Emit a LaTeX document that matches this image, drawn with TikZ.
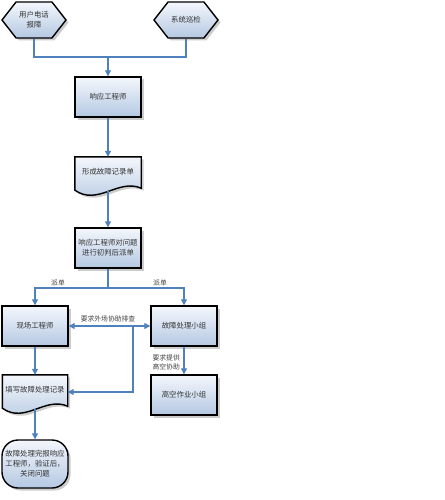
\documentclass[tikz,border=0pt]{standalone}
\usepackage{fontspec}
\setmainfont{Noto Sans CJK SC}
\usetikzlibrary{shapes.symbols,shadows,arrows.meta,calc}
\definecolor{lineblue}{HTML}{4F81BD}
\definecolor{fillbot}{HTML}{B4C8E2}
\definecolor{filltop}{HTML}{F4F7FC}
\definecolor{txt}{HTML}{333333}
\begin{document}
\begin{tikzpicture}[x=1pt,y=-1pt,
  font=\fontsize{7.4}{10}\selectfont,
  every node/.style={text=txt, align=center, inner sep=0pt},
  shapefill/.style={draw=black, line width=1.4pt, top color=filltop, bottom color=fillbot,
    drop shadow={shadow xshift=2.5pt, shadow yshift=-2.5pt, fill=black!40, opacity=0.5}},
  procbox/.style={shapefill, minimum width=66pt, minimum height=40pt},
  hexbox/.style={shapefill, signal, signal to=west and east, signal pointer angle=104,
    minimum width=64pt, minimum height=36pt},
  termbox/.style={shapefill, rounded corners=16pt, minimum width=66pt, minimum height=48pt},
  docnode/.style={minimum width=#1, minimum height=34pt},
  conn/.style={draw=lineblue, line width=1.2pt},
  arr/.style={conn, -{Triangle[length=6pt,width=6pt]}},
  darr/.style={conn, {Triangle[length=6pt,width=6pt]}-{Triangle[length=6pt,width=6pt]}},
  lbl/.style={font=\fontsize{6.8}{9}\selectfont, text=black!75}
]
\useasboundingbox (0,0) rectangle (444,500);

% hexagons
\node[hexbox] (h1) at (34,20) {用户电话\\报障};
\node[hexbox] (h2) at (186,20) {系统巡检};

% process boxes
\node[procbox] (resp) at (108,97) {响应工程师};
\node[procbox] (judge) at (108,248) {响应工程师对问题\\进行初判后派单};
\node[procbox] (field) at (35,326) {现场工程师};
\node[procbox] (group) at (184,326) {故障处理小组};
\node[procbox] (high) at (184,395) {高空作业小组};
\node[termbox] (term) at (35,464) {故障处理完报响应\\工程师，验证后，\\关闭问题};

% documents
\node[docnode=66pt] (doc1) at (108,174) {};
\path[shapefill] (doc1.north west) -- (doc1.north east) -- ($(doc1.south east)+(0,-3)$)
  .. controls ($(doc1.south west)!0.65!(doc1.south east)+(0,-13)$) and ($(doc1.south west)!0.35!(doc1.south east)+(0,15)$)
  .. ($(doc1.south west)+(0,-1)$) -- cycle;
\node at ($(doc1.center)+(0,-2)$) {形成故障记录单};

\node[docnode=65pt] (doc2) at (35,392) {};
\path[shapefill] (doc2.north west) -- (doc2.north east) -- ($(doc2.south east)+(0,-3)$)
  .. controls ($(doc2.south west)!0.65!(doc2.south east)+(0,-13)$) and ($(doc2.south west)!0.35!(doc2.south east)+(0,15)$)
  .. ($(doc2.south west)+(0,-1)$) -- cycle;
\node at ($(doc2.center)+(0,-2)$) {填写故障处理记录};

% junction coordinates
\coordinate (j1) at (108,57);
\coordinate (j2) at (108,288);
\coordinate (j3) at (133,326);

% connectors
\draw[conn] (h1.south) |- (j1) -| (h2.south);
\draw[arr] (j1) -- (resp.north);
\draw[arr] (resp.south) -- (doc1.north);
\draw[arr] (doc1.south) -- (judge.north);
\draw[conn] (judge.south) -- (j2);
\draw[arr] (j2) -| (field.north);
\draw[arr] (j2) -| (group.north);
\node[lbl] (l1) at (58,283) {派单};
\node[lbl] (l2) at (160,283) {派单};
\draw[darr] (field.east) -- (group.west);
\node[lbl] (l3) at (108,319) {要求外场协助排查};
\draw[arr] (j3) |- (doc2.east);
\draw[arr] (group.south) -- (high.north);
\node[lbl, anchor=east, align=left] (l4) at (180,362) {要求提供\\高空协助};
\draw[arr] (field.south) -- (doc2.north);
\draw[arr] (doc2.south) -- (term.north);
\end{tikzpicture}
\end{document}
